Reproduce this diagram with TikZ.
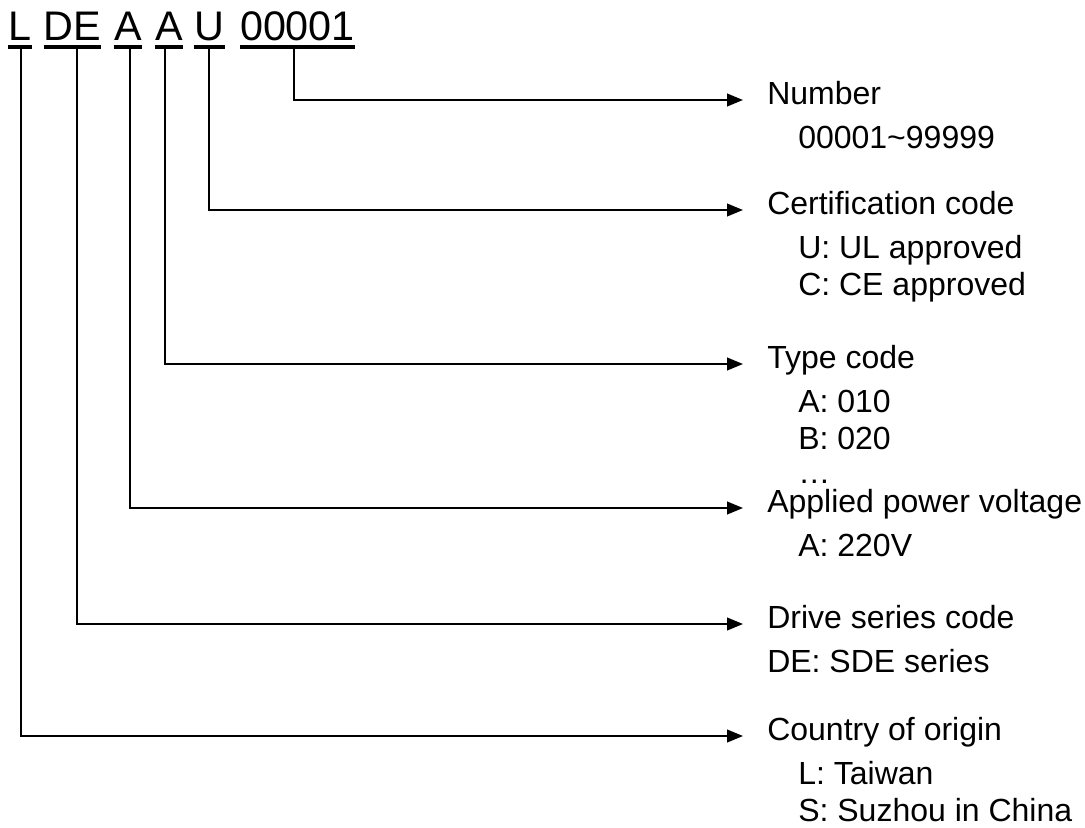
\documentclass[tikz,border=0pt]{standalone}
\usepackage{fontspec}
\setmainfont{Liberation Sans}
\usetikzlibrary{arrows.meta,calc}
\begin{document}
\begin{tikzpicture}[x=0.75pt,y=-0.75pt,
  hdr/.style={inner sep=0pt, anchor=base, font=\fontsize{31}{31}\selectfont},
  uline/.style={line width=2.4pt},
  conn/.style={line width=1.5pt, shorten >=18pt, -{Triangle[length=12pt,width=9.5pt]}},
  ttl/.style={anchor=west, inner sep=0pt, text height=0.72em, text depth=0pt, font=\fontsize{24}{28}\selectfont},
  sub/.style={anchor=base west, inner sep=0pt, font=\fontsize{24}{28}\selectfont}]
\useasboundingbox (0,0) rectangle (1085,828);

% header code
\node[hdr] (hL) at (20,40) {L};
\node[hdr] (hDE) at (72.5,40) {DE};
\node[hdr] (hA1) at (128,40) {A};
\node[hdr] (hA2) at (169,40) {A};
\node[hdr] (hU) at (209.5,40) {U};
\node[hdr] (hN) at (297.5,40) {00001};
\foreach \n in {hL,hDE,hA1,hA2,hU,hN}
  \draw[uline] ($(\n.base west)+(0,7)$) -- ($(\n.base east)+(0,7)$);

% labels
\node[ttl] (num) at (767,100) {Number};
\node[sub] at (798,148.5) {00001\textasciitilde 99999};

\node[ttl] (cert) at (767,210) {Certification code};
\node[sub] at (798,258.5) {U: UL approved};
\node[sub] at (798,295.5) {C: CE approved};

\node[ttl] (type) at (767,364) {Type code};
\node[sub] at (798,412.5) {A: 010};
\node[sub] at (798,449.5) {B: 020};
\node[sub] at (798,483) {…};

\node[ttl] (volt) at (767,508) {Applied power voltage};
\node[sub] at (798,556.5) {A: 220V};

\node[ttl] (drv) at (767,624) {Drive series code};
\node[sub] at (767,672.5) {DE: SDE series};

\node[ttl] (ctry) at (767,736) {Country of origin};
\node[sub] at (798,784.5) {L: Taiwan};
\node[sub] at (798,821.5) {S: Suzhou in China};

% connectors
\draw[conn] ($(hN.base)+(-3.5,8)$) |- (num.west);
\draw[conn] ($(hU.base)+(-0.5,8)$) |- (cert.west);
\draw[conn] ($(hA2.base)+(-4,8)$) |- (type.west);
\draw[conn] ($(hA1.base)+(2,8)$) |- (volt.west);
\draw[conn] ($(hDE.base)+(4.5,8)$) |- (drv.west);
\draw[conn] ($(hL.base)+(1,8)$) |- (ctry.west);
\end{tikzpicture}
\end{document}
